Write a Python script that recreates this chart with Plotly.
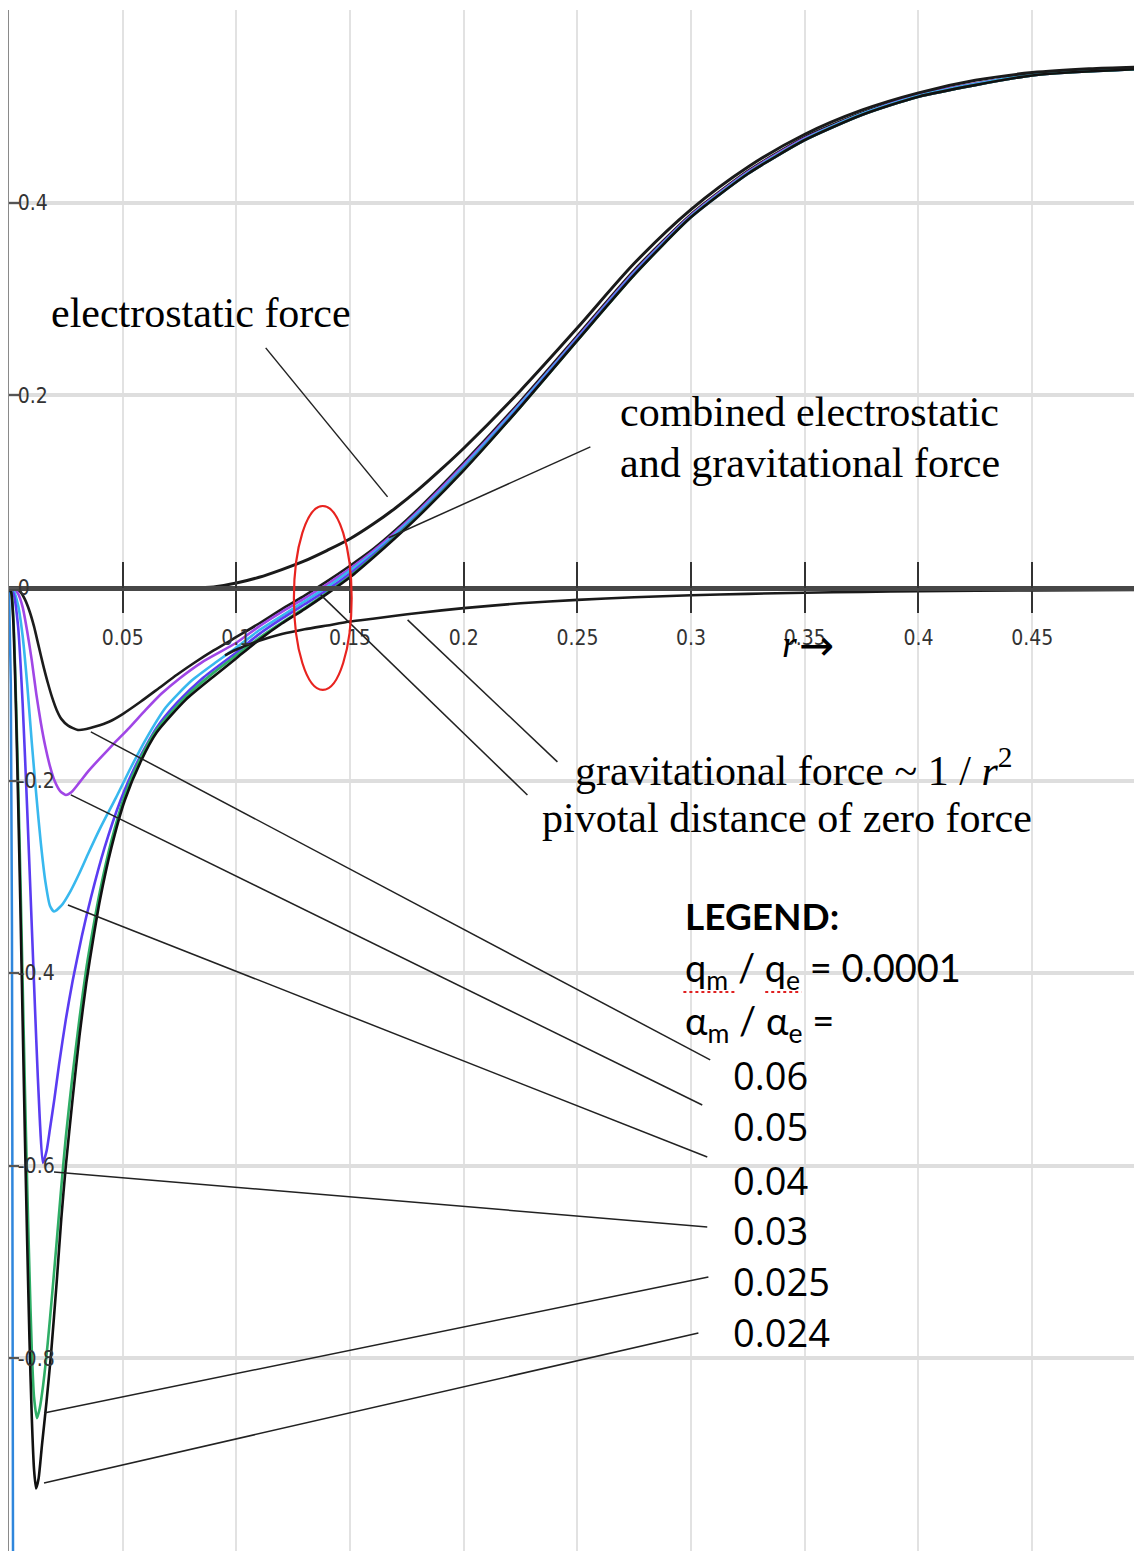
import plotly.graph_objects as go

# ---------------- data ----------------
ratio_labels = ["0.06", "0.05", "0.04", "0.03", "0.025", "0.024"]
ratio_colors = ["#1c1c1c", "#a046e6", "#38b8ee", "#5a3cf2", "#2fae66", "#111111"]

tail_x = [0.11, 0.12, 0.13, 0.14, 0.15, 0.16, 0.17, 0.18, 0.2, 0.225, 0.25, 0.275,
          0.3, 0.325, 0.35, 0.375, 0.4, 0.45, 0.5]

x_c06 = [0, 0.003, 0.005, 0.007, 0.009, 0.011, 0.013, 0.015, 0.017, 0.019, 0.021, 0.023,
         0.026, 0.0303, 0.034, 0.038, 0.044, 0.05, 0.058, 0.066, 0.074, 0.082, 0.09, 0.1] + tail_x
y_c06 = [0, -0.001, -0.004, -0.012, -0.024, -0.040, -0.060, -0.080, -0.098, -0.114, -0.127, -0.136,
         -0.143, -0.1475, -0.1465, -0.144, -0.139, -0.131, -0.118, -0.104, -0.090, -0.077, -0.065, -0.051,
         -0.037, -0.022, -0.008, 0.007, 0.023, 0.040, 0.060, 0.082, 0.130, 0.194, 0.262, 0.330,
         0.388, 0.433, 0.468, 0.493, 0.512, 0.533, 0.540]

x_c05 = [0, 0.002, 0.004, 0.006, 0.008, 0.010, 0.012, 0.014, 0.016, 0.018, 0.020, 0.0225,
         0.025, 0.0275, 0.031, 0.035, 0.040, 0.046, 0.053, 0.060, 0.067, 0.075, 0.085, 0.1] + tail_x
y_c05 = [0, -0.001, -0.006, -0.020, -0.045, -0.075, -0.110, -0.140, -0.165, -0.185, -0.200, -0.211,
         -0.215, -0.212, -0.202, -0.190, -0.177, -0.162, -0.145, -0.127, -0.110, -0.094, -0.077, -0.057,
         -0.040, -0.025, -0.011, 0.004, 0.020, 0.038, 0.058, 0.080, 0.128, 0.192, 0.260, 0.328,
         0.387, 0.432, 0.467, 0.492, 0.512, 0.533, 0.540]

x_c04 = [0, 0.002, 0.004, 0.006, 0.008, 0.010, 0.012, 0.014, 0.016, 0.018, 0.0198, 0.023,
         0.027, 0.031, 0.035, 0.040, 0.047, 0.0535, 0.060, 0.069, 0.080, 0.090, 0.1] + tail_x
y_c04 = [0, -0.003, -0.018, -0.050, -0.100, -0.160, -0.215, -0.265, -0.305, -0.330, -0.336, -0.330,
         -0.315, -0.296, -0.275, -0.250, -0.218, -0.187, -0.158, -0.124, -0.097, -0.079, -0.062,
         -0.044, -0.029, -0.014, 0.001, 0.018, 0.036, 0.056, 0.078, 0.126, 0.191, 0.259, 0.327,
         0.386, 0.431, 0.466, 0.492, 0.511, 0.533, 0.539]

x_c03 = [0, 0.002, 0.004, 0.006, 0.008, 0.010, 0.012, 0.0135, 0.0149, 0.0165, 0.018, 0.020,
         0.022, 0.025, 0.028, 0.032, 0.036, 0.042, 0.049, 0.056, 0.065, 0.074, 0.085, 0.1] + tail_x
y_c03 = [0, -0.006, -0.040, -0.120, -0.230, -0.350, -0.470, -0.550, -0.597, -0.585, -0.562, -0.530,
         -0.495, -0.448, -0.408, -0.362, -0.322, -0.270, -0.221, -0.183, -0.145, -0.119, -0.094, -0.067,
         -0.048, -0.032, -0.017, -0.002, 0.015, 0.034, 0.054, 0.076, 0.124, 0.189, 0.258, 0.326,
         0.385, 0.430, 0.465, 0.491, 0.510, 0.532, 0.539]

x_c025 = [0, 0.001, 0.002, 0.003, 0.004, 0.005, 0.006, 0.007, 0.008, 0.009, 0.010, 0.011,
          0.0123, 0.0135, 0.015, 0.017, 0.019, 0.021, 0.023, 0.025, 0.028, 0.031, 0.034, 0.037,
          0.040, 0.045, 0.051, 0.058, 0.065, 0.0778, 0.09, 0.1] + tail_x
y_c025 = [0, -0.004, -0.035, -0.110, -0.200, -0.300, -0.410, -0.520, -0.620, -0.710, -0.790, -0.840,
          -0.862, -0.852, -0.828, -0.785, -0.733, -0.678, -0.622, -0.570, -0.505, -0.447, -0.395, -0.353,
          -0.315, -0.263, -0.215, -0.176, -0.147, -0.113, -0.088, -0.070,
          -0.052, -0.036, -0.021, -0.005, 0.012, 0.032, 0.053, 0.075, 0.123, 0.188, 0.257, 0.325,
          0.385, 0.430, 0.465, 0.491, 0.510, 0.532, 0.539]

x_c024 = [0, 0.001, 0.002, 0.003, 0.004, 0.005, 0.006, 0.007, 0.008, 0.009, 0.010, 0.011,
          0.0119, 0.013, 0.0145, 0.0165, 0.0185, 0.021, 0.023, 0.025, 0.028, 0.031, 0.034, 0.037,
          0.040, 0.045, 0.051, 0.058, 0.065, 0.0778, 0.09, 0.1] + tail_x
y_c024 = [0, -0.005, -0.040, -0.120, -0.220, -0.330, -0.450, -0.570, -0.680, -0.780, -0.860, -0.915,
          -0.935, -0.925, -0.890, -0.845, -0.795, -0.720, -0.655, -0.600, -0.530, -0.465, -0.410, -0.365,
          -0.324, -0.270, -0.220, -0.180, -0.150, -0.116, -0.092, -0.073,
          -0.054, -0.037, -0.022, -0.006, 0.011, 0.031, 0.052, 0.074, 0.122, 0.188, 0.257, 0.325,
          0.385, 0.430, 0.465, 0.491, 0.510, 0.532, 0.539]

x_elec = [0, 0.05, 0.08, 0.09, 0.10, 0.11, 0.12, 0.13, 0.14, 0.15, 0.16, 0.17, 0.18, 0.19, 0.20,
          0.225, 0.25, 0.275, 0.30, 0.325, 0.35, 0.375, 0.40, 0.425, 0.45, 0.475, 0.50]
y_elec = [0, 0, 0, 0.001, 0.005, 0.011, 0.019, 0.028, 0.039, 0.051, 0.066, 0.083, 0.102, 0.123, 0.145,
          0.205, 0.270, 0.337, 0.393, 0.437, 0.471, 0.496, 0.514, 0.527, 0.535, 0.539, 0.541]

x_grav = [0.095, 0.10, 0.11, 0.12, 0.13, 0.14, 0.15, 0.16, 0.17, 0.18, 0.2, 0.225, 0.25,
          0.275, 0.3, 0.325, 0.35, 0.375, 0.4, 0.45, 0.5]
y_grav = [-0.070, -0.064, -0.055, -0.048, -0.043, -0.039, -0.035, -0.032, -0.029, -0.026,
          -0.021, -0.016, -0.0125, -0.0097, -0.0077, -0.0062, -0.005, -0.0042, -0.0035, -0.0026, -0.002]

x_blue = [0, 0.0008, 0.0013, 0.0016, 0.0018]
y_blue = [0, -0.10, -0.35, -0.70, -1.05]

x_ticks = [0.05, 0.1, 0.15, 0.2, 0.25, 0.3, 0.35, 0.4, 0.45]
x_ticktext = ["0.05", "0.1", "0.15", "0.2", "0.25", "0.3", "0.35", "0.4", "0.45"]
y_ticks = [-1.0, -0.8, -0.6, -0.4, -0.2, 0, 0.2, 0.4, 0.6]
y_ticktext = ["", "-0.8", "-0.6", "-0.4", "-0.2", "0", "0.2", "0.4", ""]

X_RANGE = [0, 0.4983]
Y_RANGE = [-1.0, 0.6]

# ---------------- figure ----------------
fig = go.Figure()

series = [(x_c06, y_c06), (x_c05, y_c05), (x_c04, y_c04), (x_c03, y_c03), (x_c025, y_c025), (x_c024, y_c024)]

fig.add_trace(go.Scatter(x=x_blue, y=y_blue, mode="lines", line=dict(color="#2f86dc", width=2.5),
                         hoverinfo="skip"))
for (xs, ys), col, lab in zip(series, ratio_colors, ratio_labels):
    fig.add_trace(go.Scatter(x=xs, y=ys, mode="lines", name=lab,
                             line=dict(color=col, width=2.6, shape="spline", smoothing=0.6)))
fig.add_trace(go.Scatter(x=x_grav, y=y_grav, mode="lines", name="gravitational",
                         line=dict(color="#1a1a1a", width=2.6, shape="spline", smoothing=0.6)))
fig.add_trace(go.Scatter(x=x_elec, y=y_elec, mode="lines", name="electrostatic",
                         line=dict(color="#1a1a1a", width=3, shape="spline", smoothing=0.8)))

# helper invisible traces so the extra x axes (crossing ticks at y=0) get drawn
fig.add_trace(go.Scatter(x=[0.25], y=[0], xaxis="x2", mode="markers", marker=dict(opacity=0),
                         hoverinfo="skip"))
fig.add_trace(go.Scatter(x=[0.25], y=[0], xaxis="x3", mode="markers", marker=dict(opacity=0),
                         hoverinfo="skip"))

axis_pos = (0 - Y_RANGE[0]) / (Y_RANGE[1] - Y_RANGE[0])
tick_font = dict(family="Liberation Sans Narrow, DejaVu Sans Condensed, Liberation Sans, sans-serif",
                 size=21, color="#333333")

fig.update_layout(
    width=1142, height=1554,
    margin=dict(l=1, r=8, t=2, b=11, pad=0),
    paper_bgcolor="white", plot_bgcolor="white",
    showlegend=False,
    xaxis=dict(range=X_RANGE, tickvals=x_ticks, showgrid=True, gridcolor="#e2e2e2", gridwidth=2,
               zeroline=False, showline=False, showticklabels=False, ticks="", automargin=False),
    xaxis2=dict(range=X_RANGE, overlaying="x", anchor="free", position=axis_pos, side="bottom",
                tickvals=x_ticks, ticktext=x_ticktext, ticks="outside", ticklen=22, tickwidth=2,
                tickcolor="#333333", tickfont=tick_font, ticklabelstandoff=7, automargin=False,
                showgrid=False, zeroline=False, showline=True, linecolor="#474747", linewidth=5),
    xaxis3=dict(range=X_RANGE, overlaying="x", anchor="free", position=axis_pos, side="bottom",
                tickvals=x_ticks, ticks="inside", ticklen=26, tickwidth=2, tickcolor="#333333",
                showticklabels=False, showgrid=False, zeroline=False, showline=False, automargin=False),
    yaxis=dict(range=Y_RANGE, tickvals=y_ticks, ticktext=y_ticktext, showgrid=True,
               gridcolor="#dedede", gridwidth=4, zeroline=False, showline=True, linecolor="#8a8a8a",
               linewidth=2, ticks="inside", ticklen=10, tickwidth=2, tickcolor="#555555",
               ticklabelposition="inside", tickfont=tick_font, automargin=False),
)

serif = "Liberation Serif, Times New Roman, serif"
label_font = dict(family=serif, size=42, color="black")
annots = [
    ("electrostatic force", 0.0176, 0.2856),
    ("combined electrostatic", 0.268, 0.183),
    ("and gravitational force", 0.268, 0.130),
    ("gravitational force ~ 1 / <i>r</i><sup>2</sup>", 0.2482, -0.186),
    ("pivotal distance of zero force", 0.2337, -0.2388),
]
for text, ax_, ay_ in annots:
    fig.add_annotation(x=ax_, y=ay_, text=text, showarrow=False, xanchor="left", yanchor="middle",
                       font=label_font, xref="x", yref="y")

# "r ->" axis hint
fig.add_annotation(x=0.3392, y=-0.058, text="<i>r</i>", showarrow=False, xanchor="left",
                   yanchor="middle", font=dict(family=serif, size=38, color="black"))
fig.add_annotation(x=0.3465, y=-0.060, text="→", showarrow=False, xanchor="left",
                   yanchor="middle", font=dict(family="DejaVu Sans, sans-serif", size=42, color="black"))

sans = "Lato, Open Sans, sans-serif"
fig.add_annotation(x=0.2966, y=-0.3406, text="<b>LEGEND:</b>", showarrow=False, xanchor="left",
                   yanchor="middle", font=dict(family=sans, size=37, color="black"))
fig.add_annotation(x=0.2966, y=-0.3967, text="q<sub>m</sub> / q<sub>e</sub> = 0.0001", showarrow=False,
                   xanchor="left", yanchor="middle", font=dict(family=sans, size=38, color="black"))
fig.add_annotation(x=0.2966, y=-0.4517, text="α<sub>m</sub> / α<sub>e</sub> =", showarrow=False,
                   xanchor="left", yanchor="middle", font=dict(family=sans, size=38, color="black"))

value_y = [-0.5057, -0.5587, -0.6147, -0.6667, -0.7196, -0.7726]
for lab, vy in zip(ratio_labels, value_y):
    fig.add_annotation(x=0.3177, y=vy, text=lab, showarrow=False, xanchor="left", yanchor="middle",
                       font=dict(family="Open Sans, DejaVu Sans, sans-serif", size=38, color="black"))

# leader lines (data coordinates)
leaders = [
    (0.1129, 0.2492, 0.1665, 0.0945),
    (0.2557, 0.1464, 0.1670, 0.0520),
    (0.2412, -0.1807, 0.1753, -0.0332),
    (0.2280, -0.2150, 0.1371, -0.0073),
    (0.0360, -0.1495, 0.3084, -0.4901),
    (0.0272, -0.2150, 0.3049, -0.5369),
    (0.0259, -0.3292, 0.3071, -0.5909),
    (0.0198, -0.6064, 0.3071, -0.6636),
    (0.0154, -0.8567, 0.3076, -0.7155),
    (0.0154, -0.9294, 0.3032, -0.7736),
]
for x0, y0, x1, y1 in leaders:
    fig.add_shape(type="line", x0=x0, y0=y0, x1=x1, y1=y1, xref="x", yref="y",
                  line=dict(color="#222222", width=1.5))

# red ellipse around the pivotal point
fig.add_shape(type="circle", xref="x", yref="y", x0=0.1253, x1=0.1507, y0=-0.106, y1=0.085,
              line=dict(color="#e8231f", width=2.2))

# red spelling underlines under q_m and q_e
for x0, x1 in [(0.2966, 0.3203), (0.3326, 0.3485)]:
    fig.add_shape(type="line", xref="x", yref="y", x0=x0, x1=x1, y0=-0.4195, y1=-0.4195,
                  line=dict(color="#e02020", width=2, dash="dot"))

fig.write_html("out.html")
